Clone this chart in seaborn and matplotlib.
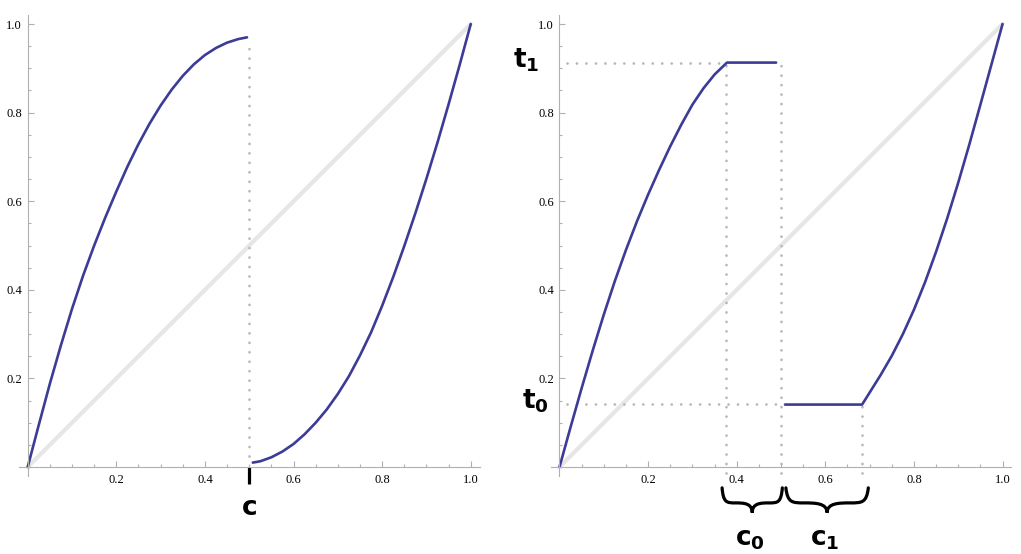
import matplotlib
matplotlib.use("Agg")
import matplotlib.pyplot as plt
import seaborn as sns
from matplotlib.path import Path
from matplotlib.patches import PathPatch
from matplotlib.ticker import MultipleLocator

sns.set_theme(style="white")
plt.rcParams["font.family"] = ["DejaVu Sans"]
plt.rcParams["mathtext.fontset"] = "dejavusans"
plt.rcParams["text.color"] = "black"

# values
tick_vals = [0.2, 0.4, 0.6, 0.8, 1.0]
tick_labels = ["0.2", "0.4", "0.6", "0.8", "1.0"]

# left panel: single cut point c
c = 0.5
left_x1 = [0, 0.025, 0.05, 0.075, 0.1, 0.125, 0.15, 0.175, 0.2, 0.225, 0.25,
           0.275, 0.3, 0.325, 0.35, 0.375, 0.4, 0.425, 0.45, 0.475, 0.495]
left_y1 = [0, 0.095, 0.188, 0.275, 0.357, 0.432, 0.500, 0.563, 0.622, 0.678, 0.729,
           0.775, 0.816, 0.852, 0.883, 0.909, 0.930, 0.946, 0.958, 0.966, 0.970]
left_x2 = [0.508, 0.525, 0.55, 0.575, 0.6, 0.625, 0.65, 0.675, 0.7, 0.725, 0.75,
           0.775, 0.8, 0.825, 0.85, 0.875, 0.9, 0.925, 0.95, 0.975, 1.0]
left_y2 = [0.010, 0.013, 0.022, 0.035, 0.052, 0.074, 0.100, 0.130, 0.165, 0.205, 0.252,
           0.304, 0.364, 0.429, 0.499, 0.573, 0.651, 0.733, 0.819, 0.908, 1.0]

# right panel: flat pieces at t1 and t0
c0_start = 0.375
c1_end = 0.683
t0 = 0.143
t1 = 0.913
right_x1 = [0, 0.025, 0.05, 0.075, 0.1, 0.125, 0.15, 0.175, 0.2, 0.225, 0.25,
            0.275, 0.3, 0.325, 0.35, 0.378, 0.489]
right_y1 = [0, 0.090, 0.178, 0.263, 0.344, 0.420, 0.490, 0.555, 0.615, 0.671, 0.724,
            0.773, 0.818, 0.855, 0.886, 0.913, 0.913]
right_x2 = [0.509, 0.683, 0.7, 0.725, 0.75, 0.775, 0.8, 0.825, 0.85, 0.875, 0.9,
            0.925, 0.95, 0.975, 1.0]
right_y2 = [0.141, 0.141, 0.168, 0.208, 0.251, 0.300, 0.355, 0.417, 0.486, 0.561, 0.642,
            0.728, 0.818, 0.909, 1.0]

# brace extents under the right panel
c0_brace = [0.367, 0.503]
c1_brace = [0.511, 0.697]

curve_color = "#3c3c96"
diag_color = "#e6e6e6"
dot_color = "#b8b8b8"
axis_color = "#b0b0b0"
dot_style = dict(color=dot_color, lw=2.0, linestyle=(0, (0.01, 3.4)),
                 dash_capstyle="round", zorder=1)

fig = plt.figure(figsize=(10.21, 5.54), dpi=100)
ax1 = fig.add_axes([0.01845, 0.141, 0.4513, 0.8316])
ax2 = fig.add_axes([0.5393, 0.141, 0.4513, 0.8316])


def style_axes(ax):
    ax.set_xlim(-0.02, 1.02)
    ax.set_ylim(-0.02, 1.02)
    ax.patch.set_alpha(0)
    ax.grid(False)
    for s in ["top", "right"]:
        ax.spines[s].set_visible(False)
    for s in ["left", "bottom"]:
        ax.spines[s].set_position(("data", 0))
        ax.spines[s].set_color(axis_color)
        ax.spines[s].set_linewidth(0.8)
    ax.set_xticks(tick_vals, tick_labels)
    ax.set_yticks(tick_vals, tick_labels)
    ax.xaxis.set_minor_locator(MultipleLocator(0.05))
    ax.yaxis.set_minor_locator(MultipleLocator(0.05))
    ax.tick_params(which="both", direction="in", color=axis_color, width=0.8,
                   labelcolor="black", labelsize=9,
                   labelfontfamily="Liberation Serif", bottom=True, left=True)
    ax.tick_params(which="major", length=4)
    ax.tick_params(which="minor", length=2.2)
    ax.tick_params(axis="x", pad=5)
    ax.tick_params(axis="y", pad=4)
    ax.set_xlabel("")
    ax.set_ylabel("")


def brace(ax, a, b, ytop, ymid, ybot):
    w = b - a
    m = (a + b) / 2
    verts = [
        (a, ytop),
        (a + 0.02 * w, ymid), (a + 0.08 * w, ymid), (a + 0.22 * w, ymid),
        (m - 0.15 * w, ymid), (m, ymid), (m, ybot),
        (m, ymid), (m + 0.15 * w, ymid), (b - 0.22 * w, ymid),
        (b - 0.08 * w, ymid), (b - 0.02 * w, ymid), (b, ytop),
    ]
    codes = [Path.MOVETO] + [Path.CURVE4] * 12
    ax.add_patch(PathPatch(Path(verts, codes), fill=False, lw=2.3,
                           edgecolor="black", clip_on=False, capstyle="round"))


for ax in (ax1, ax2):
    style_axes(ax)
    sns.lineplot(x=[0, 1], y=[0, 1], ax=ax, color=diag_color, lw=3, zorder=0)

# left panel
sns.lineplot(x=left_x1, y=left_y1, ax=ax1, color=curve_color, lw=1.9,
             sort=False, estimator=None)
sns.lineplot(x=left_x2, y=left_y2, ax=ax1, color=curve_color, lw=1.9,
             sort=False, estimator=None)
ax1.plot([c, c], [0.025, 0.962], **dot_style)
ax1.plot([c, c], [0, -0.038], color="black", lw=2.3, clip_on=False,
         solid_capstyle="butt")
ax1.text(c, -0.108, "c", fontsize=19, fontweight="bold", ha="center",
         va="baseline", color="black", clip_on=False)

# right panel
sns.lineplot(x=right_x1, y=right_y1, ax=ax2, color=curve_color, lw=1.9,
             sort=False, estimator=None)
sns.lineplot(x=right_x2, y=right_y2, ax=ax2, color=curve_color, lw=1.9,
             sort=False, estimator=None)
ax2.plot([0.016, c0_start], [t1, t1], **dot_style)
ax2.plot([0.016, c], [t0, t0], **dot_style)
ax2.plot([c0_start, c0_start], [-0.013, 0.92], **dot_style)
ax2.plot([c, c], [-0.013, 0.922], **dot_style)
ax2.plot([c1_end, c1_end], [-0.013, t0 - 0.005], **dot_style)

ax2.text(-0.106, 0.903, r"$\mathbf{t}_\mathbf{1}$", fontsize=19, color="black",
         ha="left", va="baseline", clip_on=False)
ax2.text(-0.085, 0.132, r"$\mathbf{t}_\mathbf{0}$", fontsize=19, color="black",
         ha="left", va="baseline", clip_on=False)

brace(ax2, c0_brace[0], c0_brace[1], -0.047, -0.081, -0.103)
brace(ax2, c1_brace[0], c1_brace[1], -0.047, -0.081, -0.103)
ax2.text(sum(c0_brace) / 2 - 0.005, -0.178, r"$\mathbf{c}_\mathbf{0}$",
         fontsize=19, color="black", ha="center", va="baseline", clip_on=False)
ax2.text(sum(c1_brace) / 2 - 0.005, -0.178, r"$\mathbf{c}_\mathbf{1}$",
         fontsize=19, color="black", ha="center", va="baseline", clip_on=False)

fig.savefig("out.png", dpi=100)
